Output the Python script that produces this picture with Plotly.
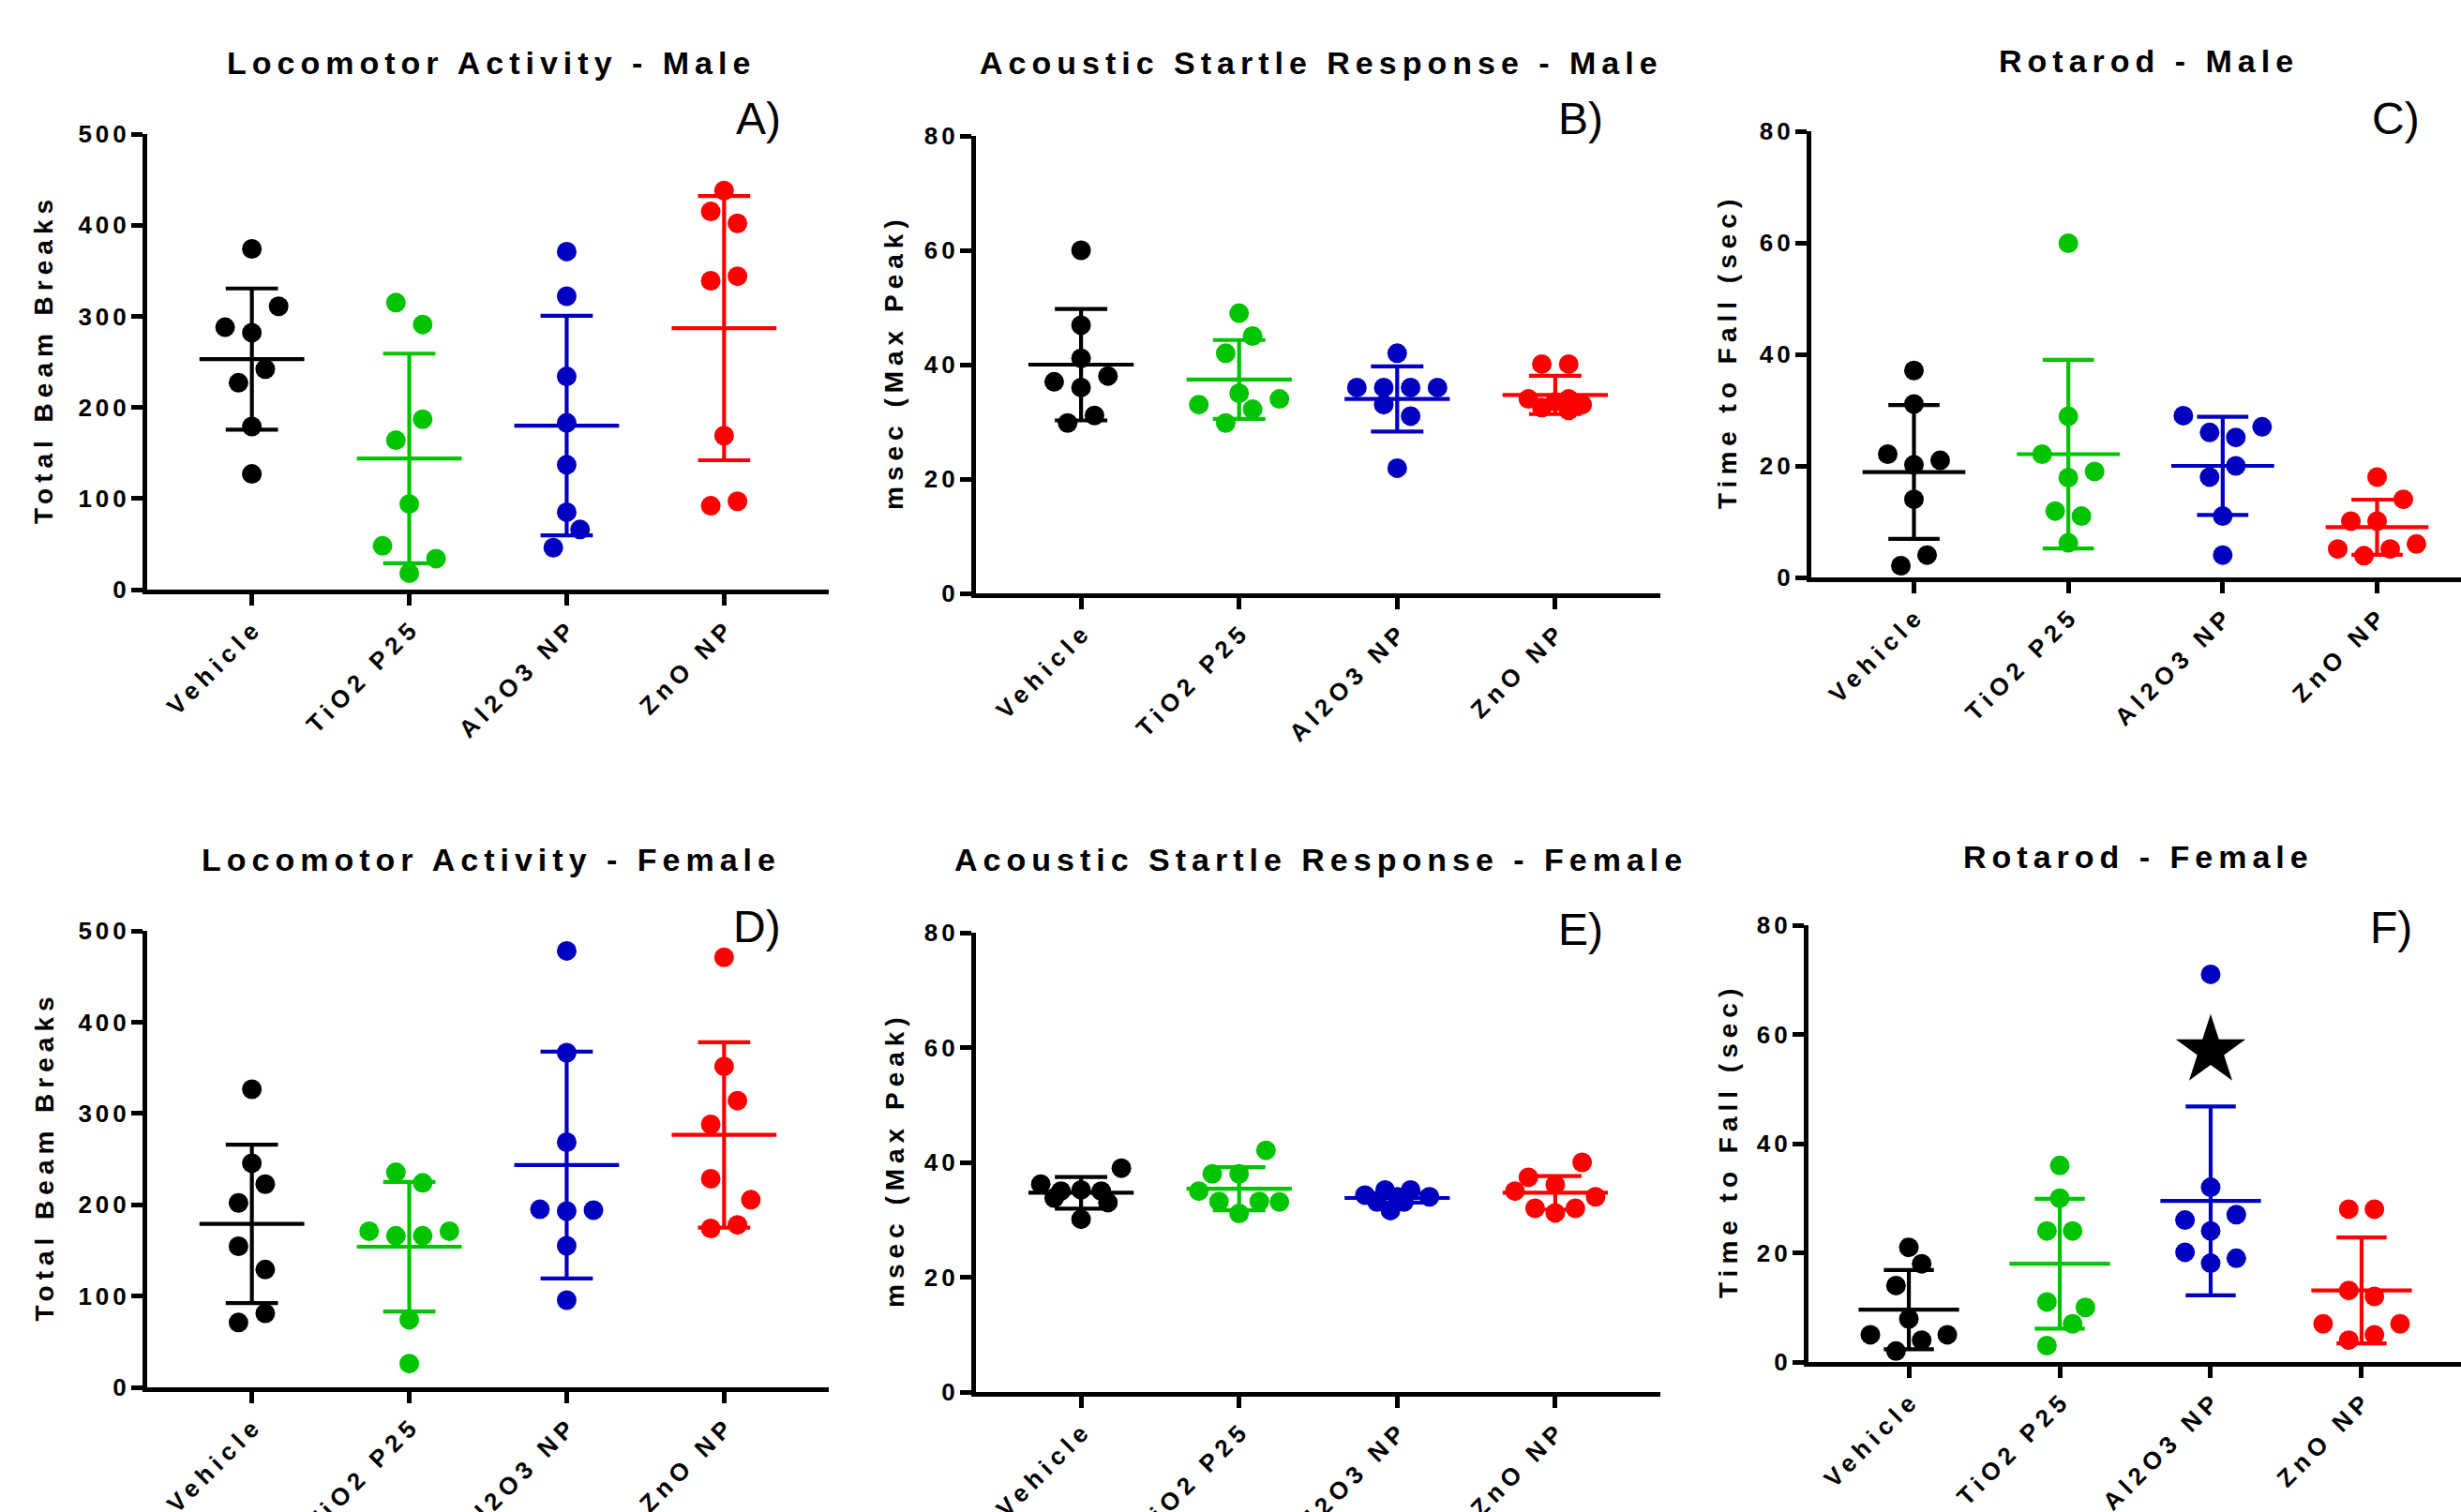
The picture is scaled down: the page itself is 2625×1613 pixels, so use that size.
import plotly.graph_objects as go

W, H = 2625, 1613

categories = ["Vehicle", "TiO2 P25", "Al2O3 NP", "ZnO NP"]
group_colors = ["#000000", "#00C400", "#0000C0", "#FF0000"]

# ---------------- Panel A: Locomotor Activity - Male ----------------
A_vehicle = [374, 311, 288, 282, 242, 227, 179, 127]
A_tio2 = [315, 291, 187, 164, 94, 48, 34, 18]
A_al2o3 = [371, 322, 234, 183, 137, 85, 66, 46]
A_zno = [438, 415, 402, 344, 339, 169, 92, 97]
A_mean = [253, 144, 180, 287]
A_sd = [77.5, 115, 120.5, 145]

# ---------------- Panel B: Acoustic Startle Response - Male ----------------
B_vehicle = [60, 46.9, 41.1, 38.0, 37.0, 36.0, 31.1, 29.8]
B_tio2 = [49, 45, 42, 35, 34, 33, 32.2, 29.8]
B_al2o3 = [42, 36, 36, 36, 36, 33, 31, 21.9]
B_zno = [40.1, 40.1, 34.0, 34.0, 33.5, 33.0, 32.5, 32.0]
B_mean = [40.0, 37.4, 34.0, 34.7]
B_sd = [9.75, 6.9, 5.7, 3.35]

# ---------------- Panel C: Rotarod - Male ----------------
C_vehicle = [37.1, 31.1, 22.1, 21.0, 20.2, 14.0, 4.0, 2.1]
C_tio2 = [59.9, 28.9, 22.1, 19.0, 17.9, 11.9, 11.0, 6.2]
C_al2o3 = [29.0, 27.0, 26.0, 25.1, 20.0, 18.0, 11.0, 4.0]
C_zno = [18.0, 14.0, 10.1, 10.1, 5.1, 5.1, 6.0, 3.9]
C_mean = [18.9, 22.1, 20.0, 9.0]
C_sd = [12.0, 16.9, 8.8, 4.95]

# ---------------- Panel D: Locomotor Activity - Female ----------------
D_vehicle = [326.5, 245.5, 222.5, 202, 154.5, 129, 81, 71]
D_tio2 = [235.5, 224, 171, 171, 166, 166, 74, 26]
D_al2o3 = [478, 366.5, 268.5, 195, 194, 193, 155, 95.5]
D_zno = [471, 351.5, 314, 288, 228.5, 205.5, 174, 178]
D_mean = [179, 154, 243.5, 276.5]
D_sd = [86.75, 71, 124.25, 101.5]

# ---------------- Panel E: Acoustic Startle Response - Female ----------------
E_vehicle = [39.0, 36.2, 35.2, 35.0, 35.0, 33.8, 33.0, 30.1]
E_tio2 = [42.1, 38.0, 38.0, 35.0, 33.2, 33.2, 33.1, 31.1]
E_al2o3 = [34.3, 35.2, 35.2, 34.0, 33.1, 33.1, 31.6, 34.0]
E_zno = [40.0, 37.4, 36.1, 35.0, 34.0, 32.0, 32.0, 31.2]
E_mean = [34.7, 35.4, 33.8, 34.7]
E_sd = [2.75, 3.75, 0.8, 2.9]

# ---------------- Panel F: Rotarod - Female ----------------
F_vehicle = [21.0, 18.0, 14.0, 7.9, 5.0, 5.0, 4.0, 2.0]
F_tio2 = [36, 30, 24, 24, 11, 10, 7, 3]
F_al2o3 = [71, 32, 27, 26, 24, 20.1, 19, 18.1]
F_zno = [28, 28, 13.1, 12, 7, 7, 5, 4]
F_mean = [9.6, 18.0, 29.5, 13.1]
F_sd = [7.25, 11.9, 17.3, 9.7]
F_significance_y = 57  # star marker above Al2O3 NP

# scatter jitter (in dot-width steps), kept apart from the values
A_jit = [[0, 2, -2, 0, 1, -1, 0, 0], [-1, 1, 1, -1, 0, -2, 2, 0],
         [0, 0, 0, 0, 0, 0, 1, -1], [0, -1, 1, 1, -1, 0, -1, 1]]
B_jit = [[0, 0, 0, 2, -2, 0, 1, -1], [0, 1, -1, 0, 3, -3, 1, -1],
         [0, -3, -1, 1, 3, -1, 1, 0], [-1, 1, -2, 1, 0, 2, -1, 1]]
C_jit = [[0, 0, -2, 2, 0, 0, 1, -1], [0, 0, -2, 2, 0, -1, 1, 0],
         [-3, 3, -1, 1, 1, -1, 0, 0], [0, 2, -2, 0, -3, 1, 3, -1]]
D_jit = [[0, 0, 1, -1, -1, 1, 1, -1], [-1, 1, -3, 3, -1, 1, 0, 0],
         [0, 0, 0, -2, 2, 0, 0, 0], [0, 0, 1, -1, -1, 2, -1, 1]]
E_jit = [[3, -3, 0, -1.5, 1.5, -2, 2, 0], [2, -2, 0, -3, -1.5, 1.5, 3, 0],
         [-2.4, -0.9, 1, 2.4, -1.5, 0.5, -0.5, 0], [2, -2, 0, -3, 3, -1.5, 1.5, 0]]
F_jit = [[0, 1, -1, 0, -3, 3, 1, -1], [0, 0, -1, 1, -1, 2, 1, -1],
         [0, 0, 2, -2, 0, -2, 2, 0], [-1, 1, -1, 1, -3, 3, 1, -1]]

panels = [
    dict(key="A", title="Locomotor Activity - Male", ytitle="Total Beam Breaks",
         groups=[A_vehicle, A_tio2, A_al2o3, A_zno], mean=A_mean, sd=A_sd, jit=A_jit,
         ymax=500, dtick=100, x0=157, x1=884, yt=143, yb=629, ty=67, lx=809, ly=127, atx=47),
    dict(key="B", title="Acoustic Startle Response - Male", ytitle="msec (Max Peak)",
         groups=[B_vehicle, B_tio2, B_al2o3, B_zno], mean=B_mean, sd=B_sd, jit=B_jit,
         ymax=80, dtick=20, x0=1041, x1=1771, yt=145, yb=633, ty=67, lx=1686, ly=127, atx=954),
    dict(key="C", title="Rotarod - Male", ytitle="Time to Fall (sec)",
         groups=[C_vehicle, C_tio2, C_al2o3, C_zno], mean=C_mean, sd=C_sd, jit=C_jit,
         ymax=80, dtick=20, x0=1932, x1=2645, yt=140, yb=616, ty=65, lx=2555, ly=127, atx=1843),
    dict(key="D", title="Locomotor Activity - Female", ytitle="Total Beam Breaks",
         groups=[D_vehicle, D_tio2, D_al2o3, D_zno], mean=D_mean, sd=D_sd, jit=D_jit,
         ymax=500, dtick=100, x0=157, x1=884, yt=993, yb=1480, ty=917, lx=807, ly=988, atx=47),
    dict(key="E", title="Acoustic Startle Response - Female", ytitle="msec (Max Peak)",
         groups=[E_vehicle, E_tio2, E_al2o3, E_zno], mean=E_mean, sd=E_sd, jit=E_jit,
         ymax=80, dtick=20, x0=1041, x1=1771, yt=995, yb=1485, ty=917, lx=1686, ly=991, atx=954),
    dict(key="F", title="Rotarod - Female", ytitle="Time to Fall (sec)",
         groups=[F_vehicle, F_tio2, F_al2o3, F_zno], mean=F_mean, sd=F_sd, jit=F_jit,
         ymax=80, dtick=20, x0=1929, x1=2626, yt=987, yb=1453, ty=914, lx=2550, ly=989, atx=1843),
]

FONT = "Liberation Sans, Arial, sans-serif"
JSTEP = 0.085
MEAN_HALF = 0.333
CAP_HALF = 0.166
XLO, XHI = -0.665, 3.665


def spaced(text, px):
    # letter-spacing on all but the last glyph, so no trailing gap is added
    return f'<span style="letter-spacing:{px}px">{text[:-1]}</span>{text[-1]}'


fig = go.Figure()
annotations = []
layout = {}

for i, p in enumerate(panels, start=1):
    xa = "x" if i == 1 else f"x{i}"
    ya = "y" if i == 1 else f"y{i}"
    unit = (p["x1"] - p["x0"]) / (XHI - XLO)
    x1c = min(p["x1"], W)
    xhi = XLO + (x1c - p["x0"]) / unit

    for g, vals in enumerate(p["groups"]):
        col = group_colors[g]
        xs = [g + j * JSTEP for j in p["jit"][g]]
        fig.add_trace(go.Scatter(
            x=xs, y=vals, mode="markers", xaxis=xa, yaxis=ya,
            marker=dict(size=21, color=col, line=dict(width=0)),
            showlegend=False, hoverinfo="skip"))
        m, s = p["mean"][g], p["sd"][g]
        lx = [g - MEAN_HALF, g + MEAN_HALF, None,
              g, g, None,
              g - CAP_HALF, g + CAP_HALF, None,
              g - CAP_HALF, g + CAP_HALF]
        ly = [m, m, None,
              m - s, m + s, None,
              m + s, m + s, None,
              m - s, m - s]
        fig.add_trace(go.Scatter(
            x=lx, y=ly, mode="lines", xaxis=xa, yaxis=ya,
            line=dict(color=col, width=4.2),
            showlegend=False, hoverinfo="skip"))

    if p["key"] == "F":
        fig.add_trace(go.Scatter(
            x=[2], y=[F_significance_y], mode="markers", xaxis=xa, yaxis=ya,
            marker=dict(symbol="star", size=56, color="black", line=dict(width=0)),
            showlegend=False, hoverinfo="skip"))

    tickvals_y = list(range(0, p["ymax"] + 1, p["dtick"]))
    layout["xaxis" if i == 1 else f"xaxis{i}"] = dict(
        domain=[p["x0"] / W, x1c / W], range=[XLO, xhi],
        anchor=ya, showgrid=False, zeroline=False, automargin=False,
        showline=True, linecolor="black", linewidth=5,
        ticks="outside", ticklen=12, tickwidth=5, tickcolor="black",
        tickvals=[0, 1, 2, 3], ticktext=[spaced(c, 6) for c in categories],
        tickangle=-45, ticklabelstandoff=2,
        tickfont=dict(family=FONT, size=26, color="black", weight="bold"),
        fixedrange=True)
    layout["yaxis" if i == 1 else f"yaxis{i}"] = dict(
        domain=[1 - p["yb"] / H, 1 - p["yt"] / H], range=[0, p["ymax"]],
        anchor=xa, showgrid=False, zeroline=False, automargin=False,
        showline=True, linecolor="black", linewidth=5,
        ticks="outside", ticklen=12, tickwidth=5, tickcolor="black",
        tickvals=tickvals_y, ticktext=[spaced(str(v), 4) if v else "0" for v in tickvals_y],
        ticklabelstandoff=0,
        tickfont=dict(family=FONT, size=26, color="black", weight="bold"),
        fixedrange=True)

    cx = (p["x0"] + p["x1"]) / 2
    annotations.append(dict(
        text=spaced(p["title"], 6), x=cx / W, y=1 - p["ty"] / H,
        xref="paper", yref="paper", xanchor="center", yanchor="middle",
        showarrow=False, font=dict(family=FONT, size=34, color="black", weight="bold")))
    annotations.append(dict(
        text=p["key"] + ")", x=p["lx"] / W, y=1 - p["ly"] / H,
        xref="paper", yref="paper", xanchor="center", yanchor="middle",
        showarrow=False, font=dict(family=FONT, size=48, color="black")))
    annotations.append(dict(
        text=spaced(p["ytitle"], 6), x=p["atx"] / W, y=1 - (p["yt"] + p["yb"]) / 2 / H,
        xref="paper", yref="paper", xanchor="center", yanchor="middle",
        textangle=-90, showarrow=False,
        font=dict(family=FONT, size=28, color="black", weight="bold")))

fig.update_layout(
    width=W, height=H, autosize=False,
    margin=dict(l=0, r=0, t=0, b=0, pad=0),
    paper_bgcolor="white", plot_bgcolor="white",
    template="none", showlegend=False,
    annotations=annotations, **layout)

fig.write_html("out.html", config={"displayModeBar": False, "staticPlot": True},
               post_script="document.body.style.margin='0';document.body.style.overflow='hidden';")
